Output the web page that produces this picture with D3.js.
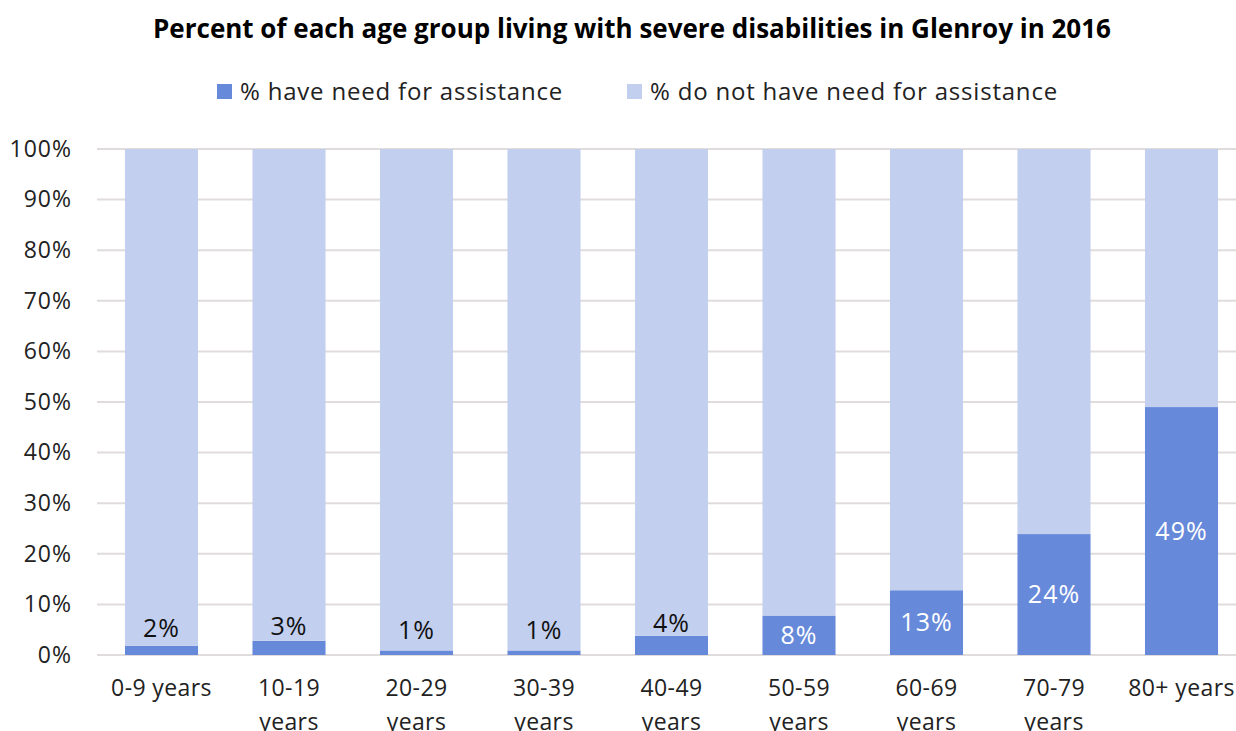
<!DOCTYPE html>
<html>
<head>
<meta charset="utf-8">
<script src="https://cdn.jsdelivr.net/npm/d3@7"></script>
<style>
  body { margin: 0; background: #fff; }
  svg { display: block; font-family: "Open Sans", sans-serif; }
</style>
</head>
<body>
<svg id="chart" width="1236" height="731"></svg>
<script>
var ageGroups = ['0-9 years', '10-19 years', '20-29 years', '30-39 years', '40-49 years',
  '50-59 years', '60-69 years', '70-79 years', '80+ years'];
var needAssistance = [1.8, 2.8, 0.9, 0.9, 3.8, 7.8, 12.8, 23.9, 49.0];
var noNeedAssistance = needAssistance.map(function(v) { return 100 - v; });
var yTicks = [0, 10, 20, 30, 40, 50, 60, 70, 80, 90, 100];
var seriesNames = ['% have need for assistance', '% do not have need for assistance'];

var darkBlue = '#6789DA';
var lightBlue = '#C3CFEF';
var gridColor = '#E0DCDC';

var svg = d3.select('#chart');

var x = d3.scaleBand()
  .domain(ageGroups)
  .range([97.75, 1245.25])
  .paddingInner(0.427)
  .paddingOuter(0.2135);

var y = d3.scaleLinear()
  .domain([0, 100])
  .range([655, 149]);

// title
svg.append('text')
  .attr('x', 632)
  .attr('y', 38)
  .attr('text-anchor', 'middle')
  .style('font-size', '26px')
  .style('font-weight', 'bold')
  .style('fill', '#000')
  .text('Percent of each age group living with severe disabilities in Glenroy in 2016');

// legend
var legendItems = [
  { name: seriesNames[0], color: darkBlue, x: 217 },
  { name: seriesNames[1], color: lightBlue, x: 627 }
];
var legend = svg.selectAll('.legend')
  .data(legendItems)
  .enter().append('g')
  .attr('class', 'legend')
  .attr('transform', function(d) { return 'translate(' + d.x + ',84)'; });
legend.append('rect')
  .attr('width', 15)
  .attr('height', 15)
  .style('fill', function(d) { return d.color; });
legend.append('text')
  .attr('x', 23)
  .attr('y', 16)
  .style('font-size', '24px')
  .style('letter-spacing', '0.8px')
  .style('fill', '#222')
  .text(function(d) { return d.name; });

// gridlines
svg.selectAll('.grid')
  .data(yTicks)
  .enter().append('line')
  .attr('class', 'grid')
  .attr('x1', 97)
  .attr('x2', 1246)
  .attr('y1', function(d) { return y(d); })
  .attr('y2', function(d) { return y(d); })
  .style('stroke', gridColor)
  .style('stroke-width', 2);

// y axis labels
var yAxis = d3.axisLeft(y)
  .tickValues(yTicks)
  .tickSize(0)
  .tickPadding(0)
  .tickFormat(function(d) { return d + '%'; });
var yAxisG = svg.append('g')
  .attr('transform', 'translate(72,0)')
  .call(yAxis);
yAxisG.select('.domain').remove();
yAxisG.selectAll('text')
  .style('font-family', '"Open Sans", sans-serif')
  .style('font-size', '23px')
  .style('letter-spacing', '1px')
  .style('fill', '#222');

// bars
var rows = ageGroups.map(function(g, i) {
  return { group: g, need: needAssistance[i], noNeed: noNeedAssistance[i] };
});
var stack = d3.stack().keys(['need', 'noNeed']);
var layers = stack(rows);
var colors = [darkBlue, lightBlue];

svg.selectAll('.layer')
  .data(layers)
  .enter().append('g')
  .attr('class', 'layer')
  .style('fill', function(d, i) { return colors[i]; })
  .selectAll('rect')
  .data(function(d) { return d; })
  .enter().append('rect')
  .attr('x', function(d) { return x(d.data.group); })
  .attr('width', x.bandwidth())
  .attr('y', function(d) { return y(d[1]); })
  .attr('height', function(d) { return y(d[0]) - y(d[1]); });

// value labels
svg.selectAll('.value')
  .data(rows)
  .enter().append('text')
  .attr('class', 'value')
  .attr('x', function(d) { return x(d.group) + x.bandwidth() / 2; })
  .attr('y', function(d) {
    var cy = y(d.need / 2);
    return d.need < 5 ? cy - 22 : cy;
  })
  .attr('dy', '0.35em')
  .attr('text-anchor', 'middle')
  .style('font-size', '25px')
  .style('letter-spacing', '1px')
  .style('fill', function(d) { return d.need < 5 ? '#111' : '#fff'; })
  .text(function(d) { return Math.round(d.need) + '%'; });

// x axis labels
var xAxis = d3.axisBottom(x).tickSize(0).tickPadding(0);
var xAxisG = svg.append('g')
  .attr('transform', 'translate(0,680)')
  .call(xAxis);
xAxisG.select('.domain').remove();
xAxisG.selectAll('text')
  .style('font-family', '"Open Sans", sans-serif')
  .style('font-size', '23px')
  .style('letter-spacing', '0.4px')
  .style('fill', '#222')
  .call(wrap, x.step() - 4);

function wrap(texts, width) {
  texts.each(function() {
    var text = d3.select(this);
    var words = text.text().split(/\s+/);
    var lineHeight = 34;
    text.text(null);
    var tspan = text.append('tspan').attr('x', 0).attr('dy', '0.71em');
    var line = [];
    words.forEach(function(word) {
      line.push(word);
      tspan.text(line.join(' '));
      if (tspan.node().getComputedTextLength() > width && line.length > 1) {
        line.pop();
        tspan.text(line.join(' '));
        line = [word];
        tspan = text.append('tspan')
          .attr('x', 0)
          .attr('dy', lineHeight + 'px')
          .text(word);
      }
    });
  });
}
</script>
</body>
</html>
